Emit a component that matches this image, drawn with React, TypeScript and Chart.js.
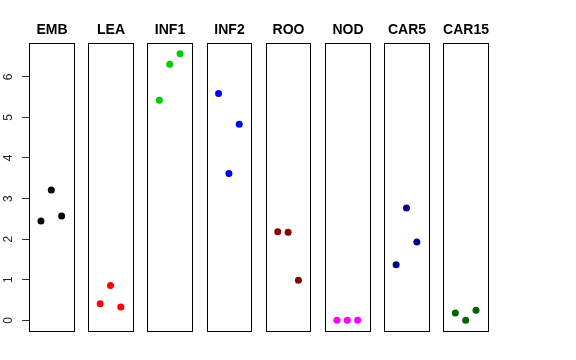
import React, { useEffect, useRef } from "react";
import { Chart, registerables } from "chart.js";

Chart.register(...registerables);

const panelNames = ["EMB", "LEA", "INF1", "INF2", "ROO", "NOD", "CAR5", "CAR15"];
const embValues = [2.45, 3.21, 2.57];
const leaValues = [0.41, 0.86, 0.33];
const inf1Values = [5.42, 6.31, 6.57];
const inf2Values = [5.59, 3.62, 4.83];
const rooValues = [2.18, 2.17, 0.99];
const nodValues = [0, 0, 0];
const car5Values = [1.37, 2.77, 1.93];
const car15Values = [0.18, 0.0, 0.25];
const panelValues = [embValues, leaValues, inf1Values, inf2Values, rooValues, nodValues, car5Values, car15Values];
const panelColors = ["#000000", "#FF0000", "#00CD00", "#0000FF", "#8B0000", "#FF00FF", "#00008B", "#006400"];
const yTicks = [0, 1, 2, 3, 4, 5, 6];

// layout constants (data-space geometry of the strip panels)
const PERIOD = 5.728;
const PAD = 0.16;
const INNER = 4;
const Y_MIN = -0.263;
const Y_MAX = 6.833;
const FONT = '"Liberation Sans", Arial, Helvetica, sans-serif';

const panelPlugin = {
  id: "panelFrames",
  beforeDatasetsDraw(chart: any) {
    const { ctx, chartArea } = chart;
    const xs = chart.scales.x;
    ctx.save();
    ctx.strokeStyle = "#000";
    ctx.lineWidth = 1;
    panelNames.forEach((name, k) => {
      const l = Math.round(xs.getPixelForValue(k * PERIOD - PAD)) + 0.5;
      const r = Math.round(xs.getPixelForValue(k * PERIOD + INNER + PAD)) + 0.5;
      const t = Math.round(chartArea.top) + 0.5;
      const b = Math.round(chartArea.bottom) + 0.5;
      ctx.strokeRect(l, t, r - l, b - t);
      ctx.fillStyle = "#000";
      ctx.font = `bold 14px ${FONT}`;
      ctx.textAlign = "center";
      ctx.textBaseline = "alphabetic";
      ctx.fillText(name, (l + r) / 2, 34);
    });
    ctx.restore();
  },
};

export default function App() {
  const ref = useRef<HTMLCanvasElement | null>(null);
  useEffect(() => {
    if (!ref.current) return;
    const datasets = panelValues.map((vals, k) => ({
      label: panelNames[k],
      data: vals.map((v, j) => ({ x: k * PERIOD + j + 1, y: v })),
      backgroundColor: panelColors[k],
      borderColor: panelColors[k],
      borderWidth: 0,
      pointRadius: 3.5,
      pointHoverRadius: 3.5,
      showLine: false,
    }));
    const chart = new Chart(ref.current, {
      type: "scatter",
      data: { datasets },
      options: {
        animation: false,
        responsive: false,
        devicePixelRatio: 1,
        layout: { padding: { top: 43, bottom: 29, right: 88, left: 0 } },
        plugins: { legend: { display: false }, tooltip: { enabled: false }, title: { display: false } },
        scales: {
          x: {
            type: "linear",
            display: false,
            min: -PAD,
            max: 7 * PERIOD + INNER + PAD,
          },
          y: {
            type: "linear",
            position: "left",
            min: Y_MIN,
            max: Y_MAX,
            afterBuildTicks: (scale: any) => {
              scale.ticks = yTicks.map((v) => ({ value: v }));
            },
            afterFit: (scale: any) => {
              scale.width = 29;
            },
            border: { display: false },
            grid: { drawOnChartArea: false, drawTicks: true, tickLength: 7, color: "#333", lineWidth: 1 },
            ticks: {
              minRotation: 90,
              maxRotation: 90,
              crossAlign: "center",
              padding: 10,
              color: "#222",
              font: { family: FONT, size: 12 },
              callback: (v: any) => String(v),
            },
          },
        },
      },
      plugins: [panelPlugin],
    });
    return () => chart.destroy();
  }, []);
  return (
    <div style={{ position: "fixed", left: 0, top: 0, width: 576, height: 360, background: "#fff" }}>
      <canvas ref={ref} width={576} height={360} style={{ width: 576, height: 360 }} />
    </div>
  );
}
